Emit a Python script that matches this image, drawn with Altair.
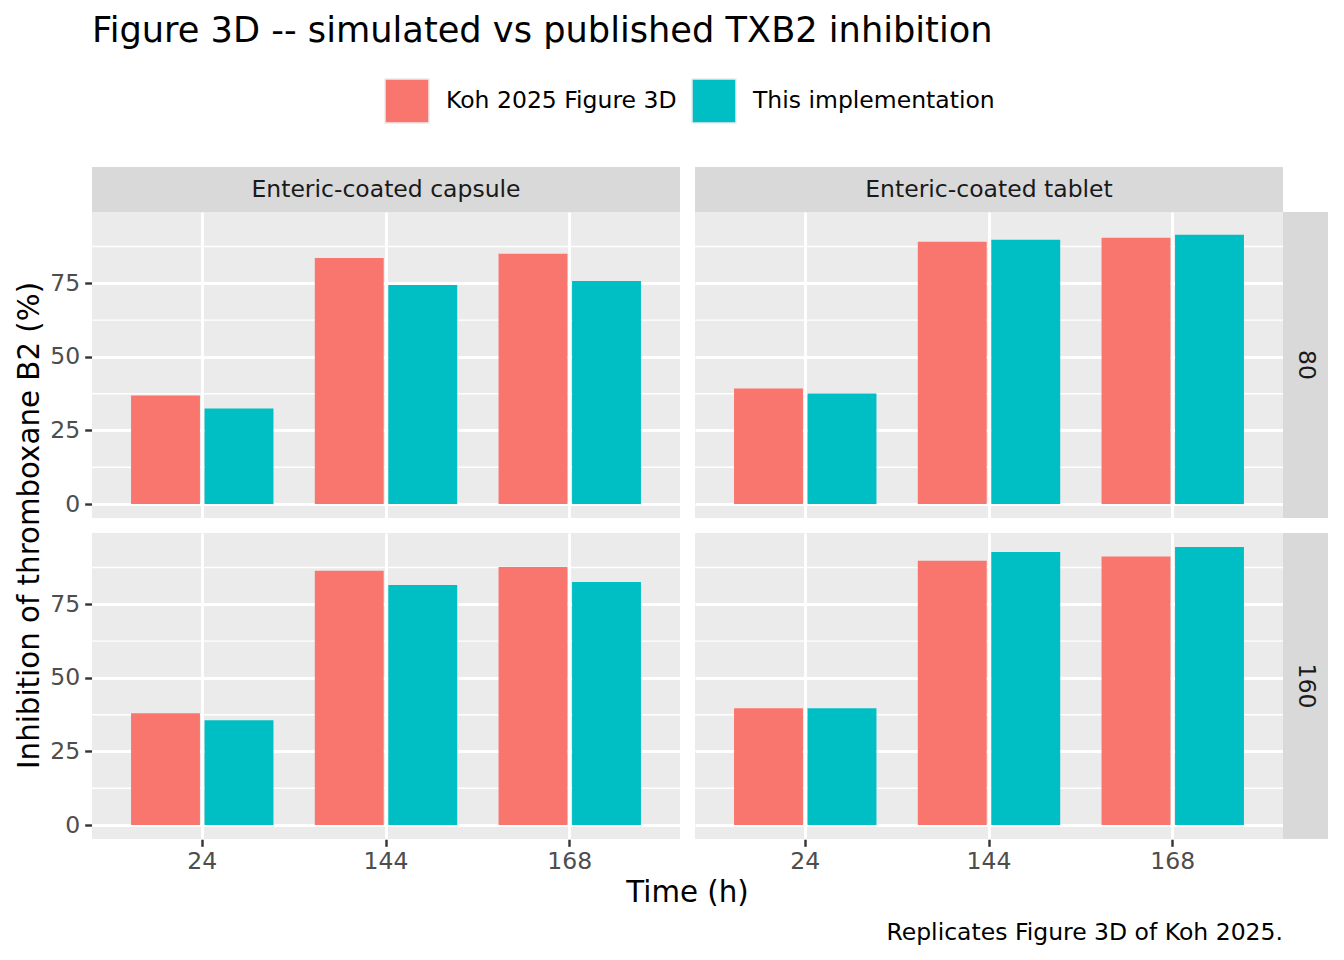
import altair as alt
import pandas as pd

FONT = "DejaVu Sans"

times = ["24", "144", "168"]
sources = ["Koh 2025 Figure 3D", "This implementation"]
formulations = ["Enteric-coated capsule", "Enteric-coated tablet"]
doses = ["80", "160"]

koh_cap_80 = [36.9, 83.6, 85.0]
sim_cap_80 = [32.5, 74.4, 75.8]
koh_tab_80 = [39.3, 89.1, 90.5]
sim_tab_80 = [37.6, 89.8, 91.5]
koh_cap_160 = [38.0, 86.4, 87.7]
sim_cap_160 = [35.6, 81.6, 82.6]
koh_tab_160 = [39.7, 89.8, 91.2]
sim_tab_160 = [39.7, 92.8, 94.5]

series = [
    (formulations[0], doses[0], sources[0], koh_cap_80),
    (formulations[0], doses[0], sources[1], sim_cap_80),
    (formulations[1], doses[0], sources[0], koh_tab_80),
    (formulations[1], doses[0], sources[1], sim_tab_80),
    (formulations[0], doses[1], sources[0], koh_cap_160),
    (formulations[0], doses[1], sources[1], sim_cap_160),
    (formulations[1], doses[1], sources[0], koh_tab_160),
    (formulations[1], doses[1], sources[1], sim_tab_160),
]
rows = []
for f, d, s, vals in series:
    for t, v in zip(times, vals):
        rows.append({"formulation": f, "dose": d, "source": s, "time": t, "value": v})
df = pd.DataFrame(rows)

vmax = df["value"].max()
ydom = [-0.05 * vmax, 1.05 * vmax]

PW, PH, SH, GAP = 588, 306, 45, 15
FS_TEXT, FS_AXT, FS_TITLE = 23.5, 29.3, 35.2
TITLE = "Figure 3D -- simulated vs published TXB2 inhibition"
YTITLE = "Inhibition of thromboxane B2 (%)"
XTITLE = "Time (h)"
CAPTION = "Replicates Figure 3D of Koh 2025."

yscale = alt.Scale(domain=ydom, nice=False, zero=False)
yaxis = alt.Axis(values=[0, 25, 50, 75])

one_per_cell = (alt.datum.time == "24") & (alt.datum.source == sources[0])

minor = (
    alt.Chart()
    .transform_filter(one_per_cell)
    .transform_calculate(g="[12.5, 37.5, 62.5, 87.5]")
    .transform_flatten(["g"])
    .mark_rule(color="white", strokeWidth=1.42)
    .encode(
        y=alt.Y("g:Q", scale=yscale, axis=yaxis, title=None),
        x=alt.value(0),
        x2=alt.value(PW),
    )
)

bars = (
    alt.Chart()
    .mark_bar()
    .encode(
        x=alt.X(
            "time:N",
            sort=times,
            title=None,
            scale=alt.Scale(paddingInner=0.2, paddingOuter=0.2),
            axis=alt.Axis(labelAngle=0, labelPadding=3),
        ),
        xOffset=alt.XOffset(
            "source:N",
            sort=sources,
            scale=alt.Scale(paddingInner=0.0625, paddingOuter=0.03125),
        ),
        y=alt.Y("value:Q", scale=yscale, title=None, axis=yaxis),
        y2=alt.datum(0),
        color=alt.Color(
            "source:N",
            sort=sources,
            scale=alt.Scale(domain=sources, range=["#F8766D", "#00BFC4"]),
            legend=alt.Legend(
                orient="none",
                legendX=292,
                legendY=-134,
                direction="horizontal",
                title=None,
                symbolType="square",
                symbolSize=1936,
                symbolStrokeColor="#EBEBEB",
                symbolStrokeWidth=1.5,
                labelFontSize=FS_TEXT,
                labelFont=FONT,
                labelColor="black",
                labelOffset=16,
                labelLimit=500,
                columnPadding=12,
            ),
        ),
    )
)

strip_top = (
    alt.Chart()
    .transform_filter(one_per_cell & (alt.datum.dose == "80"))
    .mark_rect(color="#D9D9D9")
    .encode(x=alt.value(0), x2=alt.value(PW), y=alt.value(-SH), y2=alt.value(0))
)
strip_top_text = (
    alt.Chart()
    .transform_filter(one_per_cell & (alt.datum.dose == "80"))
    .mark_text(font=FONT, fontSize=FS_TEXT, color="#1A1A1A")
    .encode(x=alt.value(PW / 2), y=alt.value(-SH / 2), text="formulation:N")
)
strip_right = (
    alt.Chart()
    .transform_filter(one_per_cell & (alt.datum.formulation == formulations[1]))
    .mark_rect(color="#D9D9D9")
    .encode(x=alt.value(PW), x2=alt.value(PW + SH), y=alt.value(0), y2=alt.value(PH))
)
strip_right_text = (
    alt.Chart()
    .transform_filter(one_per_cell & (alt.datum.formulation == formulations[1]))
    .mark_text(font=FONT, fontSize=FS_TEXT, color="#1A1A1A", angle=90)
    .encode(x=alt.value(PW + SH / 2), y=alt.value(PH / 2), text="dose:N")
)
ytitle = (
    alt.Chart()
    .transform_filter(one_per_cell & (alt.datum.formulation == formulations[0]) & (alt.datum.dose == "80"))
    .transform_calculate(lab="'" + YTITLE + "'")
    .mark_text(font=FONT, fontSize=FS_AXT, color="black", angle=270, align="center", baseline="middle")
    .encode(x=alt.value(-62), y=alt.value(PH + GAP / 2), text="lab:N")
)
xtitle = (
    alt.Chart()
    .transform_filter(one_per_cell & (alt.datum.formulation == formulations[0]) & (alt.datum.dose == "160"))
    .transform_calculate(lab="'" + XTITLE + "'")
    .mark_text(font=FONT, fontSize=FS_AXT, color="black", align="center", baseline="middle")
    .encode(x=alt.value(PW + GAP / 2), y=alt.value(PH + 54), text="lab:N")
)
caption = (
    alt.Chart()
    .transform_filter(one_per_cell & (alt.datum.formulation == formulations[1]) & (alt.datum.dose == "160"))
    .transform_calculate(cap="'" + CAPTION + "'")
    .mark_text(font=FONT, fontSize=FS_TEXT, color="black", align="right", baseline="middle")
    .encode(x=alt.value(PW), y=alt.value(PH + 94), text="cap:N")
)

chart = (
    alt.layer(
        minor, bars, strip_top, strip_top_text, strip_right, strip_right_text,
        ytitle, xtitle, caption, data=df,
    )
    .properties(width=PW, height=PH)
    .facet(
        column=alt.Column("formulation:N", sort=formulations, header=alt.Header(labels=False), title=None),
        row=alt.Row("dose:N", sort=doses, header=alt.Header(labels=False), title=None),
        spacing=GAP,
        bounds="flush",
    )
    .properties(
        title=alt.TitleParams(
            TITLE,
            anchor="start",
            frame="group",
            font=FONT,
            fontSize=FS_TITLE,
            fontWeight="normal",
            color="black",
            offset=29,
        ),
        padding={"left": 7, "top": 5, "right": 5, "bottom": 5},
    )
    .configure_view(fill="#EBEBEB", stroke=None)
    .configure_axis(
        labelFont=FONT,
        labelFontSize=FS_TEXT,
        labelColor="#4D4D4D",
        tickColor="#333333",
        tickSize=7.3,
        tickWidth=2.4,
        domain=False,
        grid=True,
        gridColor="white",
        gridWidth=2.84,
        labelPadding=5,
    )
)

chart.save("out.html", embed_options={"renderer": "svg", "actions": False})
